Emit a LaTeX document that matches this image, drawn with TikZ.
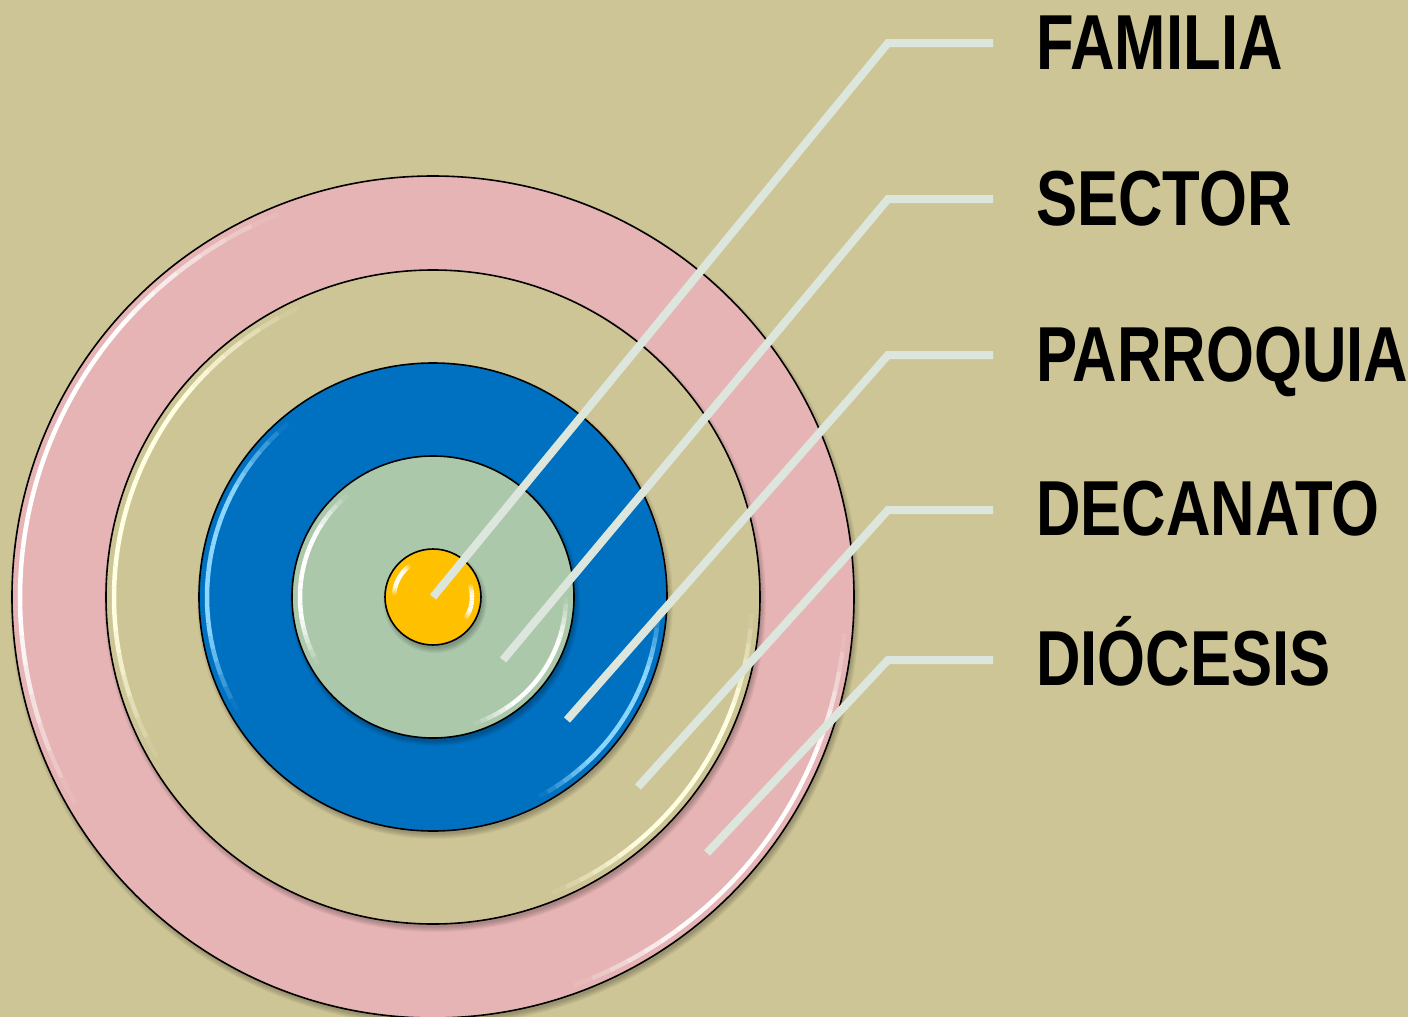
\documentclass[tikz,border=0pt]{standalone}
\usepackage{fontspec}
\newfontfamily\lblfont[FakeStretch=0.79]{Liberation Sans}
\definecolor{bgtan}{RGB}{206,197,150}
\definecolor{pinkring}{RGB}{230,180,180}
\definecolor{bluering}{RGB}{0,112,192}
\definecolor{greenring}{RGB}{171,200,171}
\definecolor{yellowcore}{RGB}{255,192,0}
\definecolor{leader}{RGB}{220,230,220}
\definecolor{creamhi}{RGB}{255,255,225}
\definecolor{bluehi}{RGB}{140,215,255}
\newcommand\glossarc[6]{%
  \foreach \k in {0,...,23}{%
    \pgfmathsetmacro\aa{#4+(#5-#4)*\k/24}%
    \pgfmathsetmacro\ab{#4+(#5-#4)*(\k+1)/24}%
    \pgfmathsetmacro\op{min(1,1.3*sin(180*(\k+0.5)/24))}%
    \draw[#6, line width=4.5, line cap=butt, opacity=\op] ([shift={(\aa:#3)}]#1,#2) arc[start angle=\aa, end angle=\ab, radius=#3];
  }}
\newcommand\softshadow[3]{%
  \foreach \i in {1,...,6}{%
    \fill[black, opacity=0.045] (#1+2,#2+4) circle[radius=#3+\i-2];
  }}
\tikzset{
  disc/.style={draw=black, line width=1.6},
  leaderline/.style={draw=leader, line width=8, line cap=butt, line join=miter},
  lbl/.style={anchor=base west, inner sep=0, font=\lblfont\bfseries\fontsize{78}{80}\selectfont, text=black}
}
\begin{document}
\begin{tikzpicture}[x=1pt,y=-1pt]
\useasboundingbox (0,0) rectangle (1408,1017);
\clip (0,0) rectangle (1408,1017);
\fill[bgtan] (0,0) rectangle (1408,1017);
\coordinate (ctr) at (433,597);
% outer pink
\softshadow{433}{597}{421}
\fill[pinkring, disc] (ctr) circle[radius=421];
\glossarc{433}{597}{413}{-112}{-210}{white}
\glossarc{433}{597}{413}{5}{70}{white}
% tan
\softshadow{433}{597}{327}
\fill[bgtan, disc] (ctr) circle[radius=327];
\glossarc{433}{597}{319}{-115}{-210}{creamhi}
\glossarc{433}{597}{319}{3}{68}{creamhi}
% blue
\softshadow{433}{597}{234}
\fill[bluering, disc] (ctr) circle[radius=234];
\glossarc{433}{597}{226}{-130}{-210}{bluehi}
\glossarc{433}{597}{226}{3}{62}{bluehi}
% green
\softshadow{433}{597}{141}
\fill[greenring, disc] (ctr) circle[radius=141];
\glossarc{433}{597}{133}{-130}{-210}{white}
\glossarc{433}{597}{133}{0}{72}{white}
% yellow
\softshadow{433}{597}{48}
\fill[yellowcore, disc] (ctr) circle[radius=48];
\glossarc{433}{597}{39}{-125}{-178}{white}
\glossarc{433}{597}{39}{-20}{35}{white}
% leader points
\coordinate (p1) at (433,597); \coordinate (e1) at (888,43);  \coordinate (h1) at (993,43);
\coordinate (p2) at (503,660); \coordinate (e2) at (888,199); \coordinate (h2) at (993,199);
\coordinate (p3) at (567,720); \coordinate (e3) at (888,355); \coordinate (h3) at (993,355);
\coordinate (p4) at (638,787); \coordinate (e4) at (888,510); \coordinate (h4) at (993,510);
\coordinate (p5) at (707,853); \coordinate (e5) at (888,660); \coordinate (h5) at (993,660);
\draw[leaderline] (p1) -- (e1) -- (h1);
\draw[leaderline] (p2) -- (e2) -- (h2);
\draw[leaderline] (p3) -- (e3) -- (h3);
\draw[leaderline] (p4) -- (e4) -- (h4);
\draw[leaderline] (p5) -- (e5) -- (h5);
% labels
\node[lbl] (familia) at (1036,69) {FAMILIA};
\node[lbl] (sector) at (1036,225) {SECTOR};
\node[lbl] (parroquia) at (1036,381) {PARROQUIA};
\node[lbl] (decanato) at (1036,535) {DECANATO};
\node[lbl] (diocesis) at (1036,685) {DIÓCESIS};
\end{tikzpicture}
\end{document}
